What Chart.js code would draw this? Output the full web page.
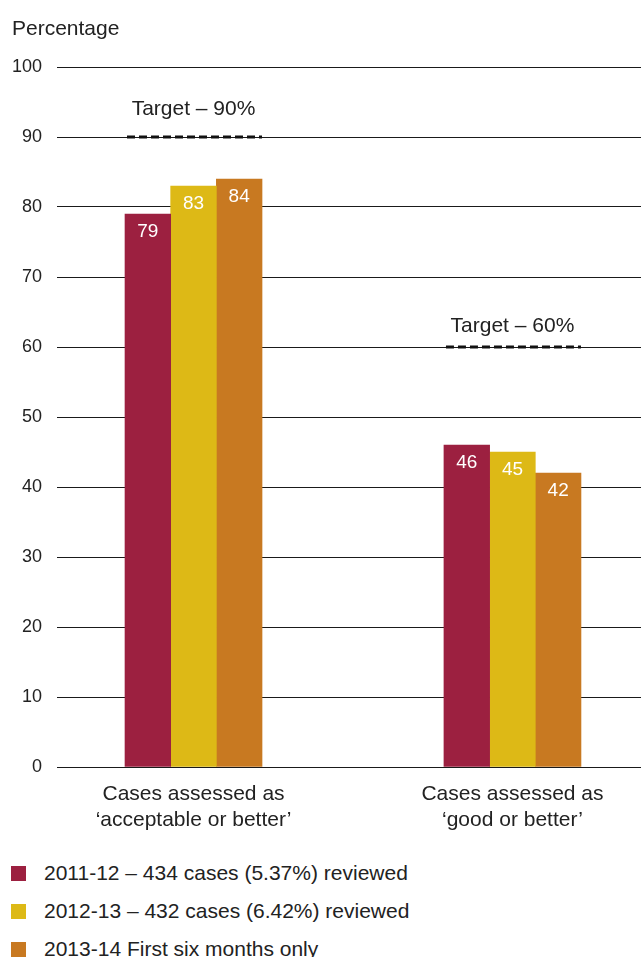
<!DOCTYPE html>
<html>
<head>
<meta charset="utf-8">
<script src="https://cdn.jsdelivr.net/npm/chart.js@4.4.0/dist/chart.umd.min.js"></script>
<style>
    html, body { margin: 0; padding: 0; background: #fff; }
    #wrap { position: relative; width: 641px; height: 957px; overflow: hidden; font-family: "Liberation Sans", Arial, sans-serif; color: #222; }
    #yTitle { position: absolute; left: 12px; top: 17px; font-size: 21px; line-height: 21px; }
    #chart { position: absolute; left: 0; top: 0; }
    #legend { position: absolute; left: 0; top: 854px; }
    .legend-row { display: flex; align-items: center; height: 38px; font-size: 21px; }
    .legend-box { width: 15px; height: 15px; margin-left: 11px; margin-right: 18px; }
</style>
</head>
<body>
<div id="wrap">
    <canvas id="chart" width="641" height="850"></canvas>
    <div id="yTitle">Percentage</div>
    <div id="legend"></div>
</div>
<script>
const categories = [
    ["Cases assessed as", "\u2018acceptable or better\u2019"],
    ["Cases assessed as", "\u2018good or better\u2019"]
];
const seriesNames = [
    "2011-12 \u2013 434 cases (5.37%) reviewed",
    "2012-13 \u2013 432 cases (6.42%) reviewed",
    "2013-14 First six months only"
];
const seriesColors = ["#9c2040", "#ddb916", "#c87921"];
const values2011 = [79, 46];
const values2012 = [83, 45];
const values2013 = [84, 42];
const targets = [90, 60];
const targetLabels = ["Target \u2013 90%", "Target \u2013 60%"];
const yTicks = [0, 10, 20, 30, 40, 50, 60, 70, 80, 90, 100];

const FONT = "'Liberation Sans', Arial, sans-serif";

const allValues = [values2011, values2012, values2013];

// white value labels inside the top of each bar
const barLabels = {
    id: "barLabels",
    afterDatasetsDraw(chart) {
        const ctx = chart.ctx;
        ctx.save();
        ctx.fillStyle = "#fff";
        ctx.font = "19px " + FONT;
        ctx.textAlign = "center";
        ctx.textBaseline = "middle";
        chart.data.datasets.forEach((ds, di) => {
            chart.getDatasetMeta(di).data.forEach((bar, i) => {
                ctx.fillText(allValues[di][i], bar.x, bar.y + 18);
            });
        });
        ctx.restore();
    }
};

// dashed target line and caption over each group
const targetLines = {
    id: "targetLines",
    afterDatasetsDraw(chart, args, opts) {
        const ctx = chart.ctx;
        const y = chart.scales.y;
        const first = chart.getDatasetMeta(0).data;
        const last = chart.getDatasetMeta(chart.data.datasets.length - 1).data;
        ctx.save();
        targets.forEach((t, i) => {
            const left = first[i].x - first[i].width / 2;
            const right = last[i].x + last[i].width / 2;
            const py = y.getPixelForValue(t);
            ctx.strokeStyle = "#111";
            ctx.lineWidth = 3;
            ctx.setLineDash([8, 4]);
            ctx.beginPath();
            ctx.moveTo(left + 2, py);
            ctx.lineTo(right, py);
            ctx.stroke();
            ctx.setLineDash([]);
            ctx.fillStyle = "#222";
            ctx.font = "21px " + FONT;
            ctx.textAlign = "center";
            ctx.textBaseline = "alphabetic";
            ctx.fillText(targetLabels[i], (left + right) / 2, py - opts.gaps[i]);
        });
        ctx.restore();
    }
};

const ctx = document.getElementById("chart").getContext("2d");

new Chart(ctx, {
    type: "bar",
    data: {
        datasets: allValues.map((vals, di) => ({
            label: seriesNames[di],
            data: vals.map((v, i) => ({ x: i, y: v })),
            backgroundColor: seriesColors[di],
            borderWidth: 0,
            barThickness: 45.67
        }))
    },
    options: {
        responsive: false,
        animation: false,
        layout: { padding: { top: 67, right: 0, left: 0, bottom: 0 } },
        plugins: {
            legend: { display: false },
            tooltip: { enabled: false },
            targetLines: { gaps: [22, 15] }
        },
        scales: {
            x: {
                type: "linear",
                offset: false,
                bounds: "data",
                grace: 0,
                min: -0.428,
                max: 1.403,
                grid: { display: false },
                border: { display: false },
                afterBuildTicks: scale => {
                    scale.ticks = categories.map((c, i) => ({ value: i }));
                },
                afterFit: scale => { scale.height = 83; },
                ticks: {
                    autoSkip: false,
                    maxRotation: 0,
                    padding: 7,
                    color: "#222",
                    font: { family: FONT, size: 21, lineHeight: 1.2 },
                    callback: v => categories[v]
                }
            },
            y: {
                min: 0,
                max: 100,
                afterBuildTicks: scale => {
                    scale.ticks = yTicks.map(v => ({ value: v }));
                },
                afterFit: scale => { scale.width = 57; },
                grid: { color: "#1a1a1a", lineWidth: 1, drawTicks: false },
                border: { display: false },
                ticks: {
                    padding: 15,
                    color: "#222",
                    font: { family: FONT, size: 18 }
                }
            }
        }
    },
    plugins: [barLabels, targetLines]
});

// html legend from the series arrays
const legend = document.getElementById("legend");
seriesNames.forEach((name, i) => {
    const row = document.createElement("div");
    row.className = "legend-row";
    row.innerHTML = '<span class="legend-box" style="background:' + seriesColors[i] + '"></span><span>' + name + '</span>';
    legend.appendChild(row);
});
</script>
</body>
</html>
